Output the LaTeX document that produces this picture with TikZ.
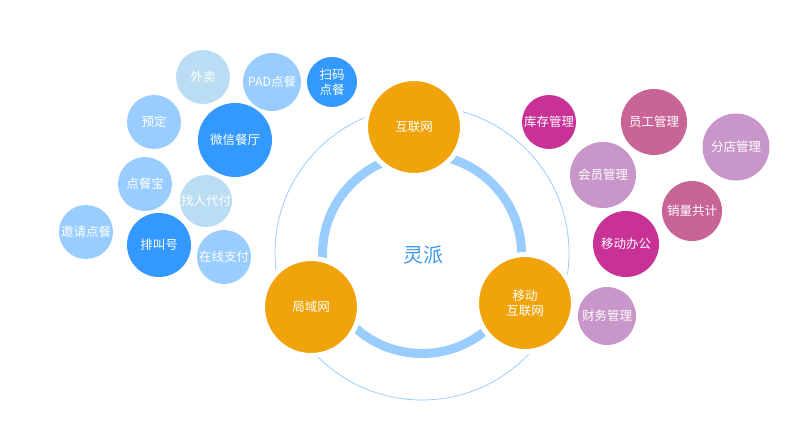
\documentclass[tikz,border=0pt]{standalone}
\usepackage{fontspec}
\newfontfamily\cjk{Noto Sans CJK SC}
\usetikzlibrary{positioning}
\definecolor{lporange}{HTML}{F0A30A}
\definecolor{lpring}{HTML}{99CCFF}
\definecolor{lpblueA}{HTML}{BBDDF3}
\definecolor{lpblueB}{HTML}{99CCFF}
\definecolor{lpblueC}{HTML}{3399FF}
\definecolor{lpmagA}{HTML}{C83296}
\definecolor{lpmagB}{HTML}{C86496}
\definecolor{lpmagC}{HTML}{C896C8}
\definecolor{lptitle}{HTML}{3A98EE}

\begin{document}
\begin{tikzpicture}[x=1pt, y=-1pt, line width=0.6pt,
    bub/.style={circle, inner sep=0pt, text=white, align=center,
                font=\cjk\fontsize{12.5}{15}\selectfont},
    hub/.style={bub, fill=lporange, draw=white, line width=5pt, minimum size=97pt}]
  \useasboundingbox (0,0) rectangle (803,433);

  % rings
  \draw[lpring, line width=0.8pt] (422,253) circle[radius=147pt];
  \draw[lpring, line width=9pt] (422,254) circle[radius=99.5pt];
  \node[font=\cjk\fontsize{20}{22}\selectfont, text=lptitle] (lingpai) at (423,255) {灵派};

  % three hubs
  \node[hub] (hulian) at (414,127) {互联网};
  \node[hub] (juyu) at (311,307) {局域网};
  \node[hub] (yidong) at (525,303) {移动\\互联网};

  % left bubbles
  \node[bub, fill=lpblueA, minimum size=54pt] (waimai) at (203,77) {外卖};
  \node[bub, fill=lpblueB, minimum size=58pt] (pad) at (272,82) {PAD点餐};
  \node[bub, fill=lpblueC, minimum size=50pt] (saoma) at (332,82) {扫码\\点餐};
  \node[bub, fill=lpblueB, minimum size=54pt] (yuding) at (154,122) {预定};
  \node[bub, fill=lpblueC, minimum size=74pt] (weixin) at (235,140) {微信餐厅};
  \node[bub, fill=lpblueB, minimum size=54pt] (diancan) at (145,184) {点餐宝};
  \node[bub, fill=lpblueA, minimum size=52pt] (daifu) at (206,201) {找人代付};
  \node[bub, fill=lpblueB, minimum size=54pt] (yaoqing) at (86,232) {邀请点餐};
  \node[bub, fill=lpblueC, minimum size=64pt] (paihao) at (159,245) {排叫号};
  \node[bub, fill=lpblueB, minimum size=54pt] (zaixian) at (224,257) {在线支付};

  % right bubbles
  \node[bub, fill=lpmagA, minimum size=54pt] (kucun) at (549,122) {库存管理};
  \node[bub, fill=lpmagB, minimum size=66pt] (yuangong) at (654,122) {员工管理};
  \node[bub, fill=lpmagC, minimum size=67pt] (fendian) at (736,147) {分店管理};
  \node[bub, fill=lpmagC, minimum size=66pt] (huiyuan) at (603,175) {会员管理};
  \node[bub, fill=lpmagB, minimum size=60pt] (xiaoliang) at (692,211) {销量共计};
  \node[bub, fill=lpmagA, minimum size=66pt] (bangong) at (626,244) {移动办公};
  \node[bub, fill=lpmagC, minimum size=58pt] (caiwu) at (607,316) {财务管理};
\end{tikzpicture}
\end{document}
